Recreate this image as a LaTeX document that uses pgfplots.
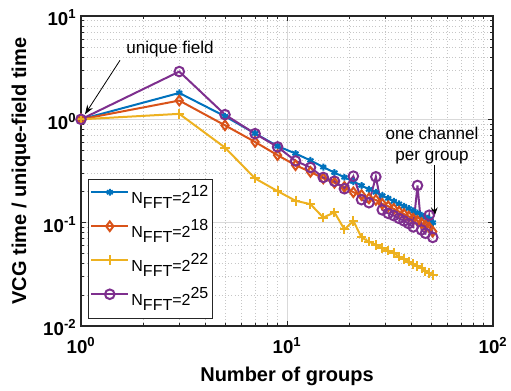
\documentclass[border=0pt]{standalone}
\usepackage{fontspec}
\setmainfont{Liberation Sans}
\usepackage{pgfplots}
\pgfplotsset{compat=1.18}
\usetikzlibrary{calc,arrows.meta}

\definecolor{cBlue}{rgb}{0,0.447,0.741}
\definecolor{cRed}{rgb}{0.850,0.325,0.098}
\definecolor{cYellow}{rgb}{0.929,0.694,0.125}
\definecolor{cPurple}{rgb}{0.494,0.184,0.556}

% legend label: N_FFT = 2^k with full-size sub/superscripts
\newcommand{\nfft}[1]{N\raisebox{-0.33em}{FFT}=2\raisebox{0.42em}{#1}}

\begin{document}
\begin{tikzpicture}
\begin{axis}[
  name=ax,
  scale only axis,
  width=309pt, height=232.5pt,
  xmode=log, ymode=log,
  xmin=1, xmax=100, ymin=0.01, ymax=10,
  xtick={1,10,100},
  xticklabels={10\textsuperscript{0},10\textsuperscript{1},10\textsuperscript{2}},
  ytick={0.01,0.1,1,10},
  yticklabels={10\textsuperscript{-2},10\textsuperscript{-1},10\textsuperscript{0},10\textsuperscript{1}},
  tick label style={font=\fontsize{14}{16}\selectfont\bfseries},
  xticklabel style={yshift=-5pt},
  yticklabel style={yshift=-1.5pt},
  tick align=inside,
  major tick length=3.5pt,
  minor tick length=2pt,
  every tick/.style={black!85, line width=0.5pt},
  axis line style={black!85, line width=0.8pt},
  grid=both,
  major grid style={gray!30, line width=0.5pt},
  minor grid style={gray!45, dotted, line width=0.5pt},
  xlabel={Number of groups},
  ylabel={VCG time / unique-field time},
  label style={font=\fontsize{15}{18}\selectfont\bfseries},
  xlabel style={at={(axis description cs:0.5,-0.163)}, anchor=center},
  ylabel style={at={(axis description cs:-0.146,0.5)}, anchor=center},
  legend cell align=left,
  legend style={
    at={(rel axis cs:0.0163,0.0248)}, anchor=south west,
    font=\fontsize{12}{14}\selectfont,
    draw=black!85, line width=0.6pt, fill=white,
    inner xsep=1.5pt, inner ysep=1pt,
    row sep=0pt,
    nodes={text height=14pt, text depth=5pt, inner ysep=3.25pt, inner xsep=1.5pt},
  },
  legend image code/.code={%
    \draw[mark repeat=2,mark phase=2] plot coordinates {(0pt,4pt) (14pt,4pt) (28pt,4pt)};},
  every axis plot/.append style={line width=1.5pt},
]
% N_FFT = 2^12
\addplot[cBlue, mark=asterisk, mark size=2.6pt] coordinates {
  (1,1.0) (3,1.80) (5,1.07) (7,0.73) (9,0.55) (11,0.467) (13,0.400)
  (15,0.345) (17,0.305) (19,0.275) (21,0.250) (23,0.229) (25,0.210)
  (27,0.197) (29,0.183) (31,0.172) (33,0.161) (35,0.152) (37,0.144)
  (39,0.137) (41,0.130) (43,0.124) (45,0.118) (47,0.113) (49,0.108)
  (51,0.100)};
\addlegendentry{\nfft{12}}
% N_FFT = 2^18
\addplot[cRed, mark=diamond, mark size=3.6pt, mark options={fill=white}] coordinates {
  (1,1.0) (3,1.52) (5,0.875) (7,0.604) (9,0.45) (11,0.36) (13,0.31)
  (15,0.268) (17,0.243) (19,0.222) (21,0.197) (23,0.185) (25,0.172)
  (27,0.166) (29,0.152) (31,0.144) (33,0.136) (35,0.128) (37,0.121)
  (39,0.115) (41,0.109) (43,0.104) (45,0.099) (47,0.094) (49,0.090)
  (51,0.082)};
\addlegendentry{\nfft{18}}
% N_FFT = 2^22
\addplot[cYellow, mark=+, mark size=3.6pt] coordinates {
  (1,1.0) (3,1.13) (5,0.533) (7,0.268) (9,0.202) (11,0.163) (13,0.151)
  (15,0.112) (17,0.126) (19,0.086) (21,0.104) (23,0.072) (25,0.0655)
  (27,0.061) (29,0.0565) (31,0.0537) (33,0.0506) (35,0.047) (37,0.0443)
  (39,0.042) (41,0.0397) (43,0.0382) (45,0.0362) (47,0.0337) (49,0.0325)
  (51,0.031)};
\addlegendentry{\nfft{22}}
% N_FFT = 2^25
\addplot[cPurple, mark=o, mark size=3.6pt, mark options={fill=white}] coordinates {
  (1,1.0) (3,2.90) (5,1.11) (7,0.727) (9,0.541) (11,0.396) (13,0.342)
  (15,0.274) (17,0.252) (19,0.213) (21,0.282) (23,0.167) (25,0.156)
  (27,0.278) (29,0.133) (31,0.123) (33,0.117) (35,0.110) (37,0.104)
  (39,0.098) (41,0.091) (43,0.229) (45,0.085) (47,0.079) (49,0.118)
  (51,0.072)};
\addlegendentry{\nfft{25}}

% annotations
\node[font=\fontsize{12.8}{15}\selectfont] at (rel axis cs:0.216,0.894) {unique field};
\draw[-{Stealth[length=7pt,width=5pt]}, line width=0.6pt, black]
  (rel axis cs:0.0947,0.8571) -- (rel axis cs:0.0097,0.6829);
\node[font=\fontsize{12.8}{15}\selectfont, align=center, inner sep=0pt]
  at (rel axis cs:0.852,0.581) {one channel\\[1pt]per group};
\draw[-{Stealth[length=7pt,width=5pt]}, line width=0.6pt, black]
  (rel axis cs:0.8575,0.5194) -- (rel axis cs:0.8575,0.3526);
\end{axis}
\pgfresetboundingbox
\path ($(ax.south west)+(-60.75pt,-48pt)$) rectangle ($(ax.north east)+(13.5pt,12pt)$);
\end{tikzpicture}
\end{document}
